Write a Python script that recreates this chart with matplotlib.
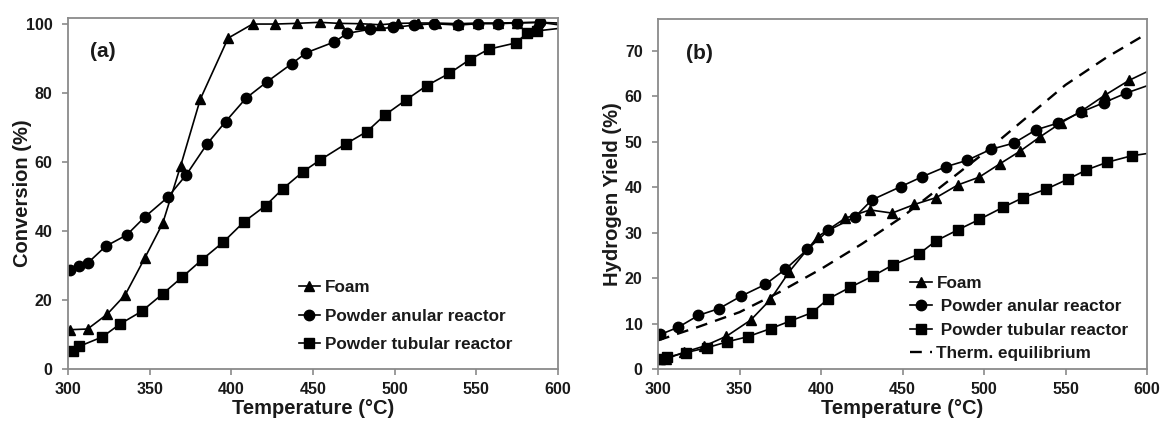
import matplotlib
matplotlib.use("Agg")
import matplotlib.pyplot as plt

plt.rcParams['font.family'] = ['Liberation Sans', 'DejaVu Sans']
plt.rcParams['font.weight'] = 'bold'

# ---------------- Panel (a): Conversion ----------------
a_foam_T = [301, 312, 324, 335, 347, 358, 369, 381, 398, 413, 427, 440, 454, 466,
            479, 491, 502, 514, 525, 539, 551, 563, 575, 588, 600]
a_foam_y = [11.4, 11.6, 15.9, 21.5, 32.2, 42.3, 59.0, 78.3, 96.0, 100.1, 100.1, 100.3,
            100.6, 100.3, 100.2, 99.9, 100.3, 100.4, 100.4, 100.2, 100.4, 100.4, 100.5,
            100.6, 100.4]

a_anular_T = [301, 307, 312, 323, 336, 347, 361, 372.5, 385, 396.5, 409, 422, 437, 446,
              463, 471, 485, 499, 512, 524, 539, 551, 563, 575, 589, 600]
a_anular_y = [28.6, 29.8, 30.7, 35.6, 38.9, 44.1, 49.8, 56.4, 65.2, 71.8, 78.6, 83.4,
              88.6, 91.8, 94.9, 97.4, 98.6, 99.1, 99.8, 100.2, 99.8, 100.2, 100.2, 100.4,
              100.6, 99.9]

a_tubular_T = [303, 307, 321, 332, 345, 358, 370, 382, 395, 408, 421, 431.5, 444, 454.5,
               470, 483, 494, 507, 519.5, 533.5, 546, 557.5, 574, 581, 587, 600]
a_tubular_y = [5.1, 6.6, 9.3, 13.1, 16.7, 21.8, 26.7, 31.7, 36.8, 42.8, 47.4, 52.3, 57.3,
               60.7, 65.3, 68.9, 73.7, 78.1, 82.2, 85.8, 89.8, 92.8, 94.6, 97.4, 98.1, 98.8]

# ---------------- Panel (b): Hydrogen yield ----------------
b_foam_T = [301, 305, 316, 328, 342, 357, 369, 380.5, 398, 415, 430, 443.6, 457.3, 470.6,
            484, 497, 510, 522, 534.5, 547, 560, 574, 589, 600]
b_foam_y = [2.2, 2.2, 3.7, 5.0, 7.2, 10.8, 15.3, 21.4, 29.1, 33.2, 35.0, 34.3, 36.2, 37.7,
            40.5, 42.2, 45.2, 47.9, 51.1, 54.1, 56.8, 60.2, 63.5, 65.4]

b_anular_T = [301.5, 312.5, 324.8, 337.5, 350.8, 365.8, 378, 391.6, 404.5, 420.7, 431.2,
              448.8, 462.1, 476.6, 489.6, 504, 518.3, 531.8, 545.3, 559.4, 573.6, 587.2, 600]
b_anular_y = [7.6, 9.2, 11.8, 13.3, 16.0, 18.6, 21.9, 26.3, 30.5, 33.4, 37.2, 40.1, 42.3,
              44.5, 45.9, 48.3, 49.7, 52.6, 54.1, 56.5, 58.6, 60.7, 62.3]

b_tubular_T = [301.2, 305.7, 317, 330.3, 342.6, 355, 369.2, 380.7, 394.5, 404.3, 418,
               431.6, 444.1, 460, 470.6, 483.9, 497.1, 511.8, 524, 538.3, 551.7, 562.8,
               575.7, 590.5, 600]
b_tubular_y = [2.3, 2.6, 3.6, 4.7, 6.0, 7.1, 8.9, 10.5, 12.4, 15.4, 18.0, 20.4, 22.9, 25.3,
               28.2, 30.6, 32.9, 35.6, 37.7, 39.6, 41.8, 43.8, 45.5, 46.9, 47.4]

b_equil_T = [300, 325, 350, 375, 400, 425, 450, 475, 500, 525, 550, 575, 600]
b_equil_y = [6.3, 9.3, 12.5, 17.0, 22.0, 27.5, 33.5, 40.5, 47.5, 55.0, 62.5, 68.5, 73.8]

x_ticks = [300, 350, 400, 450, 500, 550, 600]
a_yticks = [0, 20, 40, 60, 80, 100]
b_yticks = [0, 10, 20, 30, 40, 50, 60, 70]

W, H = 1164, 421
fig = plt.figure(figsize=(W / 100, H / 100), dpi=100)
ax1 = fig.add_axes([68 / W, 1 - 369 / H, 490 / W, (369 - 17.5) / H])
ax2 = fig.add_axes([658 / W, 1 - 369 / H, 489 / W, (369 - 19) / H])

frame_col = '#8a8a8a'
txt_col = '#1a1a1a'
lw = 1.2


def style(ax, yticks, ylim, ylabel):
    ax.set_xlim(300, 600)
    ax.set_ylim(*ylim)
    ax.set_xticks(x_ticks)
    ax.set_yticks(yticks)
    for s in ax.spines.values():
        s.set_color(frame_col)
        s.set_linewidth(1.3)
    ax.tick_params(axis='both', direction='out', length=4, width=1.2,
                   color=frame_col, labelsize=11.5, labelcolor=txt_col)
    ax.tick_params(axis='x', pad=5)
    ax.tick_params(axis='y', pad=7)
    for lab in ax.get_xticklabels() + ax.get_yticklabels():
        lab.set_fontweight('bold')
    ax.set_xlabel('Temperature (°C)', fontsize=14.5, fontweight='bold',
                  color=txt_col, labelpad=2)
    ax.set_ylabel(ylabel, fontsize=14.5, fontweight='bold', color=txt_col)
    ax.yaxis.set_label_coords(-0.0735, 0.5)


mk_kw = dict(color='black', lw=lw, markeredgecolor='black', markerfacecolor='black')

# Panel (a)
ax1.plot(a_foam_T, a_foam_y, marker='^', ms=7.5, markevery=list(range(len(a_foam_T) - 1)),
         label='Foam', **mk_kw)
ax1.plot(a_anular_T, a_anular_y, marker='o', ms=7.5,
         markevery=list(range(len(a_anular_T) - 1)),
         label='Powder anular reactor', **mk_kw)
ax1.plot(a_tubular_T, a_tubular_y, marker='s', ms=7,
         markevery=list(range(len(a_tubular_T) - 1)),
         label='Powder tubular reactor', **mk_kw)
style(ax1, a_yticks, (0, 102), 'Conversion (%)')
ax1.text(313.5, 92.2, '(a)', fontsize=15, fontweight='bold', va='center', ha='left',
         color=txt_col)
leg1 = ax1.legend(loc='upper left', bbox_to_anchor=(299 / W, 1 - 280 / H),
                  bbox_transform=fig.transFigure, frameon=False, fontsize=12.3,
                  handlelength=1.2, handletextpad=0.3, labelspacing=0.8,
                  borderpad=0, borderaxespad=0)
for t in leg1.get_texts():
    t.set_fontweight('bold')
    t.set_color(txt_col)

# Panel (b)
ax2.plot(b_foam_T, b_foam_y, marker='^', ms=7.5, markevery=list(range(len(b_foam_T) - 1)),
         label='Foam', **mk_kw)
ax2.plot(b_anular_T, b_anular_y, marker='o', ms=7.5,
         markevery=list(range(len(b_anular_T) - 1)),
         label=' Powder anular reactor', **mk_kw)
ax2.plot(b_tubular_T, b_tubular_y, marker='s', ms=7,
         markevery=list(range(len(b_tubular_T) - 1)),
         label=' Powder tubular reactor', **mk_kw)
ax2.plot(b_equil_T, b_equil_y, color='black', lw=1.7, ls=(0, (5, 3.5)),
         label='Therm. equilibrium')
style(ax2, b_yticks, (0, 77), 'Hydrogen Yield (%)')
ax2.text(317.2, 69.5, '(b)', fontsize=15, fontweight='bold', va='center', ha='left',
         color=txt_col)
leg2 = ax2.legend(loc='upper left', bbox_to_anchor=(910 / W, 1 - 275.5 / H),
                  bbox_transform=fig.transFigure, frameon=False, fontsize=12.3,
                  handlelength=1.3, handletextpad=0.25, labelspacing=0.5,
                  borderpad=0, borderaxespad=0)
for t in leg2.get_texts():
    t.set_fontweight('bold')
    t.set_color(txt_col)

fig.savefig('out.png', dpi=100)
